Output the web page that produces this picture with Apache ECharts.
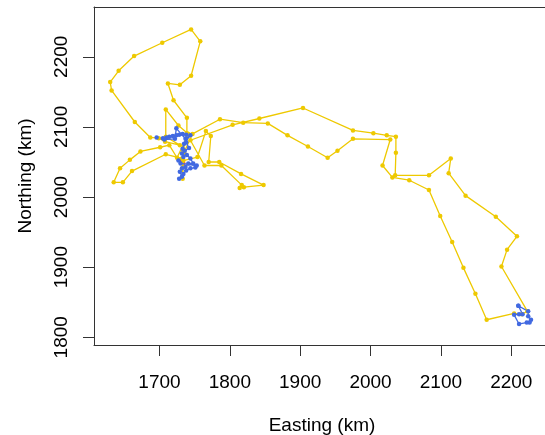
<!DOCTYPE html>
<html>
<head>
<meta charset="utf-8">
<script src="https://cdn.jsdelivr.net/npm/echarts@6/dist/echarts.min.js"></script>
<style>
  html, body { margin: 0; padding: 0; background: #fff; }
  #chart { width: 545px; height: 435px; }
</style>
</head>
<body>
<div id="chart"></div>
<script>
// Long-range track (km, projected)
var trackEasting = [1734,1739,1739,1720,1712,1729,1745,1758,1745,1704,1664,1642,1630,1632,1665,1687,1699,1708,1729,1709,1709,1727,1741,1725,1714,1701,1673,1658,1644,1635,1648,1661,1709,1732,1733,1734,1754,1766,1773,1770,1785,1816,1848,1820,1814,1817,1788,1764,1744,1804,1842,1904,1975,2004,2023,2036,2036,2035,2083,2114,2111,2135,2178,2208,2194,2186,2223,2215,2204,2165,2149,2132,2116,2099,2083,2055,2031,2017,2028,1975,1953,1939,1911,1882,1854,1819,1786,1747,1735];
var trackNorthing = [2067,2091,2113,2138,2162,2160,2173,2222,2239,2220,2201,2180,2164,2152,2107,2085,2084,2079,2074,2086,2125,2102,2090,2056,2074,2071,2065,2053,2041,2021,2021,2037,2061,2055,2026,2052,2057,2094,2087,2050,2050,2033,2017,2014,2013,2017,2045,2045,2081,2103,2112,2127,2095,2091,2088,2086,2063,2031,2031,2055,2034,2002,1972,1944,1925,1901,1837,1833,1834,1825,1862,1899,1936,1973,2010,2024,2028,2045,2082,2083,2066,2056,2072,2088,2105,2106,2111,2090,2064];

// Resident-area movements, western site
var westEasting = [1738,1733,1728,1724,1719,1714,1710,1705,1696,1707,1722,1724,1737,1744,1735,1733,1732,1739,1744,1748,1741,1737,1732,1729,1732,1728,1734,1738,1744,1751,1753,1730,1727,1734,1736,1742,1738];
var westNorthing = [2089,2090,2089,2088,2087,2086,2085,2084,2085,2082,2083,2098,2083,2088,2076,2069,2062,2060,2055,2048,2048,2043,2041,2036,2029,2026,2033,2038,2041,2042,2045,2048,2052,2057,2066,2070,2078];

// Resident-area movements, eastern site
var eastEasting = [2210,2224,2224,2228,2226,2222,2211,2204,2211,2216,2210];
var eastNorthing = [1845,1837,1830,1825,1821,1821,1819,1832,1833,1833,1845];

// Release locations
var releaseEasting = [1732,1734,1730];
var releaseNorthing = [2050,2048,2052];

// Axis ticks
var eastingTicks = [1700,1800,1900,2000,2100,2200];
var northingTicks = [1800,1900,2000,2100,2200];

function pairs(xs, ys) {
  return xs.map(function (x, i) { return [x, ys[i]]; });
}
function plain(v) { return String(v); }

var font = 'Liberation Sans, Arial, Helvetica, sans-serif';
var frame = { show: true, lineStyle: { color: '#333', width: 1 } };
var chart = echarts.init(document.getElementById('chart'), null, { renderer: 'canvas' });

chart.setOption({
  animation: false,
  backgroundColor: '#ffffff',
  grid: { left: 94, top: 7, width: 456, height: 338, show: false, containLabel: false, outerBoundsMode: 'none' },
  xAxis: [
    {
      type: 'value', min: 1607, max: 2255, position: 'bottom',
      splitLine: { show: false },
      axisLine: frame,
      axisTick: { show: true, length: 11, lineStyle: { color: '#333' }, customValues: eastingTicks },
      axisLabel: { color: '#000', fontSize: 19, fontFamily: font, margin: 28, formatter: plain, customValues: eastingTicks },
      name: 'Easting (km)', nameLocation: 'middle', nameGap: 71,
      nameTextStyle: { color: '#000', fontSize: 19, fontFamily: font }
    },
    {
      type: 'value', min: 1607, max: 2255, position: 'top',
      splitLine: { show: false }, axisLine: frame,
      axisTick: { show: false }, axisLabel: { show: false }
    }
  ],
  yAxis: {
    type: 'value', min: 1789, max: 2271,
    splitLine: { show: false },
    axisLine: frame,
    axisTick: { show: true, length: 11, lineStyle: { color: '#333' }, customValues: northingTicks },
    axisLabel: { color: '#000', fontSize: 19, fontFamily: font, margin: 23, rotate: 90, formatter: plain, customValues: northingTicks },
    name: 'Northing (km)', nameLocation: 'middle', nameGap: 59, nameRotate: 90,
    nameTextStyle: { color: '#000', fontSize: 19, fontFamily: font }
  },
  series: [
    {
      type: 'line', data: pairs(trackEasting, trackNorthing),
      symbol: 'circle', symbolSize: 4.5, showAllSymbol: true,
      lineStyle: { color: '#EEC900', width: 1.3 },
      itemStyle: { color: '#EEC900' }
    },
    {
      type: 'line', data: pairs(westEasting, westNorthing),
      symbol: 'circle', symbolSize: 4.5, showAllSymbol: true,
      lineStyle: { color: '#4169E1', width: 1.3 },
      itemStyle: { color: '#4169E1' }
    },
    {
      type: 'line', data: pairs(eastEasting, eastNorthing),
      symbol: 'circle', symbolSize: 4.5, showAllSymbol: true,
      lineStyle: { color: '#4169E1', width: 1.3 },
      itemStyle: { color: '#4169E1' }
    },
    {
      type: 'scatter', data: pairs(releaseEasting, releaseNorthing),
      symbol: 'circle', symbolSize: 4.5,
      itemStyle: { color: '#E8202A' }
    }
  ]
});
</script>
</body>
</html>
